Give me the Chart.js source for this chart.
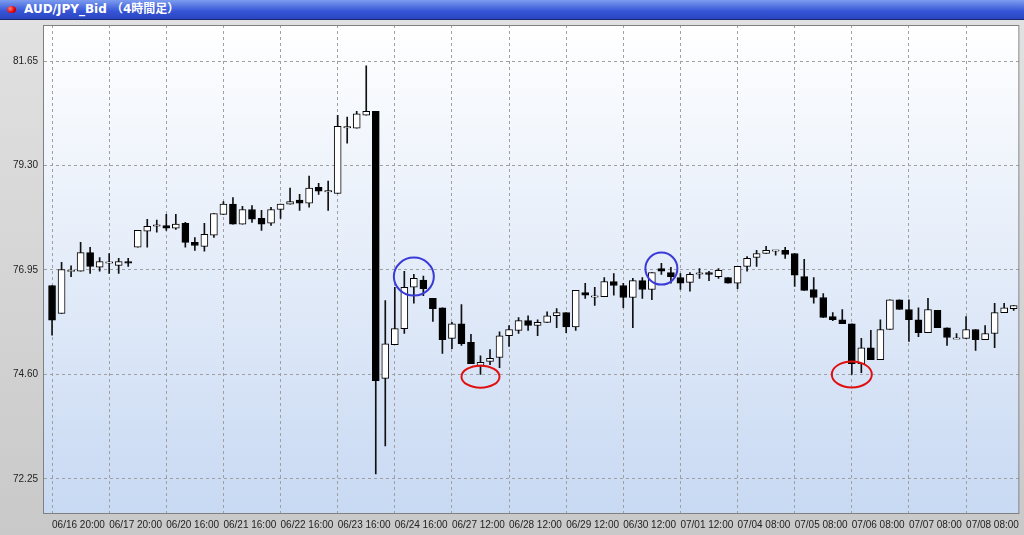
<!DOCTYPE html>
<html><head><meta charset="utf-8">
<script src="https://cdn.jsdelivr.net/npm/chart.js@4"></script>
<style>
html,body{margin:0;padding:0;width:1024px;height:535px;overflow:hidden;background:linear-gradient(#e2e2e2,#c9c9c9);font-family:"DejaVu Sans",sans-serif}
#title{height:19px;border-bottom:1px solid #1a2a70;background:linear-gradient(#7c9cf0,#3554d6 60%,#2a45c0);color:#fff;font:bold 12px "DejaVu Sans","Noto Sans CJK JP",sans-serif;line-height:19px;padding-left:24px;position:relative}
#title:before{content:"";position:absolute;left:7px;top:6px;width:9px;height:7px;border-radius:50%;background:radial-gradient(circle at 35% 35%,#ff8080,#e00000 60%,#900)}
#wrap{position:absolute;left:0;top:14px;width:1024px;height:521px}
</style></head><body>
<div id="title">AUD/JPY_Bid （4時間足）</div>
<div id="wrap"><canvas id="c"></canvas></div>
<script>
const tickLabels=["06/16 20:00","06/17 20:00","06/20 16:00","06/21 16:00","06/22 16:00","06/23 16:00","06/24 16:00","06/27 12:00","06/28 12:00","06/29 12:00","06/30 12:00","07/01 12:00","07/04 08:00","07/05 08:00","07/06 08:00","07/07 08:00","07/08 08:00"];
const yTicks=[72.25,74.60,76.95,79.30,81.65];
const open=[76.60,75.97,76.93,76.92,77.34,77.01,77.12,77.05,77.14,77.46,77.82,77.95,77.95,77.89,78.00,77.57,77.48,77.73,78.20,78.43,
77.98,78.31,78.11,78.00,78.31,78.43,78.52,78.45,78.81,78.72,78.67,80.16,80.14,80.43,80.52,74.51,75.27,75.63,76.56,76.72,
76.31,76.10,75.41,75.74,75.32,74.80,74.89,74.98,75.47,75.59,75.81,75.70,75.77,75.92,75.99,75.67,76.44,76.35,76.35,76.69,
76.60,76.33,76.71,76.51,76.98,76.89,76.78,76.67,76.87,76.89,76.80,76.78,76.65,77.03,77.23,77.32,77.39,77.39,77.32,76.80,
76.51,76.33,75.90,75.83,75.74,74.84,75.20,74.93,75.61,76.28,76.06,75.83,75.54,76.04,75.65,75.41,75.41,75.61,75.38,75.52,
75.99,76.08];
const high=[76.60,77.12,77.04,77.57,77.46,77.23,77.32,77.21,77.21,77.84,78.09,78.07,78.20,78.20,78.02,77.68,78.00,78.22,78.49,78.58,
78.38,78.40,78.29,78.36,78.43,78.79,78.65,79.06,78.90,78.95,80.43,80.39,80.52,81.54,80.52,76.26,76.56,76.92,76.85,76.81,
76.31,76.10,75.77,76.17,75.50,75.02,75.16,75.56,75.70,75.88,75.92,75.83,76.01,76.08,75.99,76.49,76.65,76.56,76.78,76.87,
76.65,76.76,76.78,76.89,77.10,77.01,76.87,76.89,76.98,76.92,76.98,76.78,77.03,77.25,77.39,77.48,77.39,77.46,77.32,77.19,
76.78,76.42,75.99,76.06,75.74,75.41,75.59,75.83,76.28,76.28,76.28,76.10,76.31,76.04,75.65,75.52,75.90,75.61,75.70,76.20,
76.20,76.15];
const low=[75.48,75.97,76.80,76.92,76.87,76.92,76.87,76.87,77.03,77.46,77.46,77.80,77.84,77.86,77.46,77.39,77.37,77.68,78.20,77.98,
77.98,78.02,77.84,77.95,78.11,78.43,78.29,78.36,78.65,78.29,78.67,79.80,80.14,80.43,72.36,72.99,75.27,75.52,76.20,76.37,
75.79,75.07,75.18,75.25,74.84,74.60,74.82,74.75,75.23,75.52,75.59,75.47,75.77,75.65,75.54,75.59,76.31,76.15,76.35,76.38,
76.10,75.65,76.31,76.28,76.85,76.65,76.51,76.47,76.76,76.71,76.76,76.65,76.53,76.92,77.03,77.32,77.28,77.21,76.58,76.49,
76.20,75.88,75.81,75.74,74.60,74.64,74.93,74.93,75.61,76.06,75.34,75.45,75.54,75.65,75.25,75.41,75.41,75.14,75.38,75.20,
75.99,76.04];
const close=[75.82,76.96,76.93,77.34,77.03,77.14,77.12,77.14,77.10,77.84,77.93,77.95,77.89,77.98,77.57,77.50,77.75,78.22,78.43,77.98,
78.31,78.09,77.98,78.31,78.43,78.49,78.45,78.79,78.72,78.72,80.18,80.16,80.46,80.52,74.46,75.29,75.63,76.56,76.76,76.53,
76.08,75.38,75.74,75.29,74.84,74.87,74.96,75.47,75.61,75.81,75.70,75.77,75.92,75.99,75.67,76.49,76.38,76.35,76.69,76.60,
76.33,76.71,76.51,76.89,76.92,76.80,76.65,76.85,76.87,76.85,76.94,76.65,77.03,77.21,77.32,77.39,77.39,77.30,76.83,76.49,
76.33,75.88,75.83,75.74,74.84,75.20,74.93,75.61,76.28,76.06,75.83,75.54,76.06,75.65,75.43,75.41,75.61,75.38,75.52,75.99,
76.10,76.15];
// annotations: [candle index, price, radiusX px, radiusY px, color]
const marks=[[38,76.80,20,19,"#3a3ad8"],[64,76.98,16,16,"#3a3ad8"],[45,74.55,19,11,"#e01010"],[84,74.60,20,13,"#e01010"]];

const wicks=open.map((o,i)=>({x:i,y:[low[i],high[i]]}));
const bodies=open.map((o,i)=>{let a=Math.min(o,close[i]),b=Math.max(o,close[i]);if(b-a<0.03){a-=0.015;b+=0.015;}return {x:i,y:[a,b]};});
const bodyColors=open.map((o,i)=>close[i]<o?"#000":"#fff");

const bgPlugin={id:"bg",beforeDraw(ch){const a=ch.chartArea,c=ch.ctx;const g=c.createLinearGradient(0,a.top,0,a.bottom);g.addColorStop(0,"#ffffff");g.addColorStop(1,"#c8d9f3");c.save();c.fillStyle=g;c.fillRect(a.left,a.top,a.right-a.left,a.bottom-a.top);c.restore();},
afterDraw(ch){const a=ch.chartArea,c=ch.ctx;c.save();c.strokeStyle="#808080";c.lineWidth=1;c.strokeRect(a.left+0.5,a.top+0.5,a.right-a.left-1,a.bottom-a.top-1);
c.lineWidth=2;marks.forEach(m=>{const x=ch.scales.x.getPixelForValue(m[0]),y=ch.scales.y.getPixelForValue(m[1]);c.strokeStyle=m[4];c.beginPath();c.ellipse(x,y,m[2],m[3],0,0,Math.PI*2);c.stroke();});c.restore();}};

new Chart(document.getElementById("c"),{
type:"bar",
data:{datasets:[
{data:wicks,backgroundColor:"#111",barThickness:1,grouped:false,order:2},
{data:bodies,backgroundColor:bodyColors,borderColor:"#000",borderWidth:1,borderSkipped:false,barThickness:7,grouped:false,order:1}
]},
options:{responsive:true,maintainAspectRatio:false,animation:false,
layout:{padding:{left:0,top:0,right:2,bottom:0}},
plugins:{legend:{display:false},tooltip:{enabled:false}},
scales:{
x:{type:"linear",offset:false,min:-0.95,max:101.6,
afterBuildTicks(s){s.ticks=tickLabels.map((t,k)=>({value:k*6}));},
afterFit(s){s.height=21;},
grid:{offset:false,color:"#a0a0a0",drawTicks:false},border:{display:true,color:"rgba(0,0,0,0)",dash:[3,3]},
ticks:{autoSkip:false,maxRotation:0,align:"start",padding:5,color:"#222",font:{family:"Liberation Sans",size:10},callback:(v)=>tickLabels[Math.round(v/6)]}},
y:{min:71.46,max:82.46,
afterBuildTicks(s){s.ticks=yTicks.map(v=>({value:v}));},
afterFit(s){s.width=43;},
grid:{color:"#a0a0a0",drawTicks:false},border:{display:true,color:"rgba(0,0,0,0)",dash:[3,3]},
ticks:{padding:5,color:"#222",font:{family:"Liberation Sans",size:10},callback:(v)=>v.toFixed(2)}}
}},
plugins:[bgPlugin]
});
</script></body></html>
